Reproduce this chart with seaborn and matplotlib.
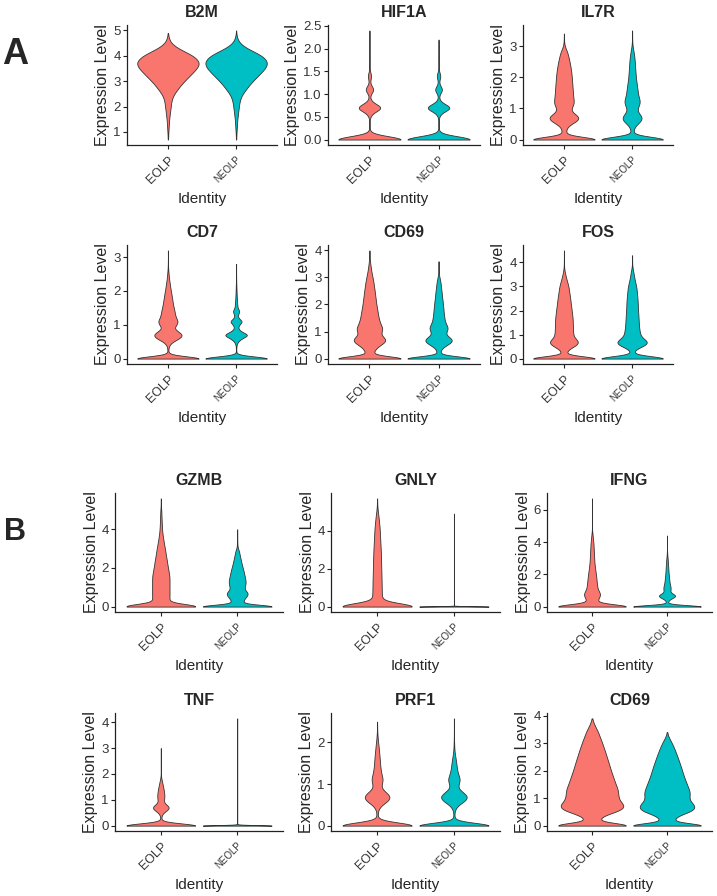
import numpy as np
import pandas as pd
import seaborn as sns
import matplotlib.pyplot as plt
from matplotlib.ticker import MultipleLocator

sns.set_style('ticks')
plt.rcParams['font.family'] = ['Liberation Sans', 'DejaVu Sans']

# cells per 0.1 expression bin, starting at 0.0; tails are single outlying cells
GROUPS = ['EOLP', 'NEOLP']
COLORS = ['#F8766D', '#00BFC4']
STEP = 0.1

B2M_EOLP = [0, 0, 0, 0, 0, 0, 0,
            2, 4, 4, 6, 8, 10, 12, 14, 16, 20, 24, 28, 32, 36, 40, 44, 52, 64, 80, 104, 128, 152,
            180, 208, 240, 272, 304, 336, 364, 388, 400, 388, 360, 320, 260, 192, 132, 80, 44, 24, 12, 6, 2]
B2M_NEOLP = [0, 0, 0, 0, 0, 0, 0,
             2, 3, 4, 6, 8, 10, 12, 14, 16, 20, 24, 28, 32, 36, 40, 46, 54, 66, 84, 108, 132, 156,
             184, 212, 244, 276, 308, 340, 368, 390, 400, 392, 368, 330, 272, 204, 140, 88, 50, 28, 14, 7, 3, 1]
HIF1A_EOLP = [1000, 20, 4, 3, 3, 8, 60, 300, 60, 6, 10, 110, 12, 8, 45, 4, 2, 5, 1, 1, 1, 1, 0, 1, 1]
HIF1A_NEOLP = [1000, 20, 3, 3, 3, 6, 50, 310, 50, 5, 10, 100, 10, 8, 50, 3, 2, 2, 1, 1, 1, 0, 1]
IL7R_EOLP = [850, 20, 25, 30, 40, 95, 180, 220, 160, 95, 95, 125, 135, 128, 123, 120, 117, 114, 111, 108,
             105, 101, 96, 90, 83, 75, 66, 56, 46, 28, 10, 4, 2, 1, 1]
IL7R_NEOLP = [900, 15, 15, 20, 30, 70, 125, 145, 110, 70, 70, 95, 110, 100, 85, 78, 74, 68, 62, 56,
              51, 48, 45, 42, 39, 37, 33, 28, 22, 14, 7, 3, 2, 1, 1, 1]
CD7_EOLP = [1000, 10, 8, 10, 25, 90, 230, 300, 200, 110, 170, 200, 160, 140, 130, 115, 100, 90, 80, 70,
            58, 47, 38, 28, 20, 14, 8, 4, 2, 1, 0, 1, 1]
CD7_NEOLP = [1000, 8, 4, 4, 8, 35, 120, 290, 100, 35, 60, 150, 40, 35, 80, 30, 25, 20, 16, 12,
             10, 7, 5, 3, 2, 1, 1, 1, 1]
CD69_EOLP = [1000, 40, 60, 80, 110, 170, 240, 270, 215, 175, 190, 210, 190, 170, 155, 145, 137, 130, 123, 116,
             108, 103, 98, 92, 87, 82, 76, 70, 64, 57, 49, 40, 32, 25, 19, 14, 9, 5, 3, 1, 1]
CD69_NEOLP = [1000, 20, 25, 32, 60, 130, 210, 235, 165, 110, 125, 155, 140, 115, 100, 94, 88, 83, 79, 76,
              71, 66, 61, 56, 52, 47, 42, 37, 32, 26, 15, 7, 3, 2, 1, 1, 1]
FOS_EOLP = [1000, 25, 30, 40, 70, 140, 200, 215, 175, 140, 132, 130, 128, 127, 126, 125, 124, 122, 118, 114,
            110, 106, 101, 97, 93, 89, 84, 79, 74, 69, 64, 56, 46, 36, 28, 20, 12, 7, 3, 2, 1, 1, 0, 1, 0, 1]
FOS_NEOLP = [1000, 15, 15, 22, 50, 130, 205, 220, 165, 120, 108, 102, 97, 93, 90, 88, 87, 85, 83, 81,
             79, 77, 76, 75, 73, 71, 68, 65, 62, 59, 55, 48, 40, 33, 27, 22, 18, 10, 5, 2, 1, 1, 0, 1]

GZMB_EOLP = [700, 55, 58, 60, 60, 61, 61, 61, 61, 61, 61, 61, 61, 61, 61, 61, 60,
             58, 55, 53, 51, 48, 46, 44, 42, 40, 37, 35, 33, 31, 29, 26, 24, 22, 19, 17, 15, 13, 11, 10,
             9, 8, 7, 7, 6, 6, 5, 5, 4, 4, 3, 2, 1, 1, 0, 1, 1]
GZMB_NEOLP = [700, 50, 55, 60, 67, 85, 100, 105, 85, 68, 70, 76, 80, 80, 78, 74, 70, 66, 62, 58, 53,
              48, 43, 39, 35, 31, 27, 23, 20, 16, 8, 4, 2, 2, 1, 1, 1, 1, 0, 1, 1]
GNLY_EOLP = [700, 40, 35, 30, 27, 25, 25,
             25, 25, 25, 24, 24, 24, 24, 24, 23, 23, 23, 23, 22, 22, 22, 22, 21, 21, 21,
             21, 20, 20, 20, 19, 19, 18, 18, 17, 17, 16, 16, 15, 15, 14, 14, 13,
             12, 11, 10, 9, 8, 7, 6, 4, 3, 2, 1, 1, 1, 0, 1]
GNLY_NEOLP = [3000, 0, 0, 0, 0, 0, 0, 3, 0, 0, 0, 2]
GNLY_NEOLP_TAIL = [1.5, 1.8, 2.2, 2.6, 3.0, 3.4, 3.9, 4.4, 4.9]
IFNG_EOLP = [650, 35, 32, 32, 34, 38, 45, 52, 52, 45, 38, 34, 32, 31, 30, 29, 28, 27, 26, 25,
             24, 22, 21, 20, 18, 17, 16, 15, 14, 14, 13, 13, 12, 12, 11, 11, 10, 10, 9, 9,
             8, 7, 6, 5, 4, 3, 2, 1]
IFNG_EOLP_TAIL = [5.0, 5.4, 5.9, 6.3, 6.7]
IFNG_NEOLP = [1000, 10, 10, 12, 20, 55, 110, 130, 70, 40, 45, 50, 48, 44, 38, 34, 32, 29, 27, 25,
              23, 21, 20, 18, 17, 16, 14, 13, 12, 10, 8, 6, 4, 3, 2, 1]
IFNG_NEOLP_TAIL = [3.7, 4.0, 4.4]
TNF_EOLP = [1000, 15, 8, 6, 10, 30, 90, 140, 80, 35, 45, 50, 50, 45, 40, 32, 25, 18, 9, 3, 1]
TNF_EOLP_TAIL = [2.2, 2.5, 2.7, 3.0]
TNF_NEOLP = [3000, 0, 0, 0, 0, 0, 0, 3, 0, 0, 0, 2]
TNF_NEOLP_TAIL = [1.5, 1.9, 2.3, 2.6, 3.1, 3.5, 4.15]
PRF1_EOLP = [1000, 15, 10, 8, 20, 70, 180, 220, 140, 60, 70, 95, 75, 60, 52, 46, 42, 36, 30, 24, 17, 10, 5, 2]
PRF1_EOLP_TAIL = [2.4, 2.5]
PRF1_NEOLP = [1000, 15, 10, 8, 22, 80, 200, 250, 160, 70, 80, 110, 85, 62, 50, 42, 32, 20, 10, 6, 4, 2, 1]
PRF1_NEOLP_TAIL = [2.3, 2.45, 2.58]
CD69B_EOLP = [620, 50, 60, 72, 120, 200, 260, 275, 260, 235, 225, 222, 220, 218, 210, 200, 192, 184, 176, 168,
              160, 153, 146, 139, 132, 124, 117, 110, 102, 94, 86, 78, 68, 60, 51, 40, 28, 17, 8, 2]
CD69B_NEOLP = [620, 55, 65, 80, 130, 210, 255, 260, 240, 215, 205, 210, 212, 205, 195, 185, 175, 165, 156, 148,
               140, 132, 124, 115, 106, 97, 88, 78, 68, 57, 45, 32, 18, 7, 2]

# title, (eolp counts, tail), (neolp counts, tail), y tick step, bandwidth adjust
PANELS_A = [
    ('B2M', (B2M_EOLP, []), (B2M_NEOLP, []), 1, 0.85),
    ('HIF1A', (HIF1A_EOLP, []), (HIF1A_NEOLP, []), 0.5, 0.7),
    ('IL7R', (IL7R_EOLP, []), (IL7R_NEOLP, []), 1, 0.5),
    ('CD7', (CD7_EOLP, []), (CD7_NEOLP, []), 1, 0.5),
    ('CD69', (CD69_EOLP, []), (CD69_NEOLP, []), 1, 0.5),
    ('FOS', (FOS_EOLP, []), (FOS_NEOLP, []), 1, 0.5),
]
PANELS_B = [
    ('GZMB', (GZMB_EOLP, []), (GZMB_NEOLP, []), 2, 0.5),
    ('GNLY', (GNLY_EOLP, []), (GNLY_NEOLP, GNLY_NEOLP_TAIL), 2, 0.5),
    ('IFNG', (IFNG_EOLP, IFNG_EOLP_TAIL), (IFNG_NEOLP, IFNG_NEOLP_TAIL), 2, 0.5),
    ('TNF', (TNF_EOLP, TNF_EOLP_TAIL), (TNF_NEOLP, TNF_NEOLP_TAIL), 1, 0.7),
    ('PRF1', (PRF1_EOLP, PRF1_EOLP_TAIL), (PRF1_NEOLP, PRF1_NEOLP_TAIL), 1, 0.6),
    ('CD69', (CD69B_EOLP, []), (CD69B_NEOLP, []), 1, 0.55),
]

W, H = 717, 896
COLS_A = [(127, 277), (328, 480), (523, 673)]
COLS_B = [(115, 283), (331, 500), (547, 712)]
ROWS_A = [(25, 145), (245, 364)]
ROWS_B = [(493, 612), (713, 831)]


def expand(counts, tail):
    levels = np.round(np.arange(len(counts)) * STEP, 2)
    return np.concatenate([np.repeat(levels, counts), np.asarray(tail, dtype=float)])


def draw_panel(fig, box, title, eolp, neolp, tick_step, bw):
    (x0, x1), (y0, y1) = box
    ax = fig.add_axes([x0 / W, 1 - y1 / H, (x1 - x0) / W, (y1 - y0) / H])
    e = expand(*eolp)
    n = expand(*neolp)
    df = pd.DataFrame({'Identity': ['EOLP'] * len(e) + ['NEOLP'] * len(n),
                       'value': np.concatenate([e, n])})
    sns.violinplot(data=df, x='Identity', y='value', hue='Identity', order=GROUPS,
                   hue_order=GROUPS, palette=COLORS, saturation=1, density_norm='width',
                   cut=0, inner=None, width=0.9, linewidth=0.6, linecolor='#333333',
                   bw_adjust=bw, gridsize=500, legend=False, ax=ax)
    lo, hi = df['value'].min(), df['value'].max()
    pad = 0.05 * (hi - lo)
    ax.set_ylim(lo - pad, hi + pad)
    ax.set_xlim(-0.6, 1.6)
    ax.yaxis.set_major_locator(MultipleLocator(tick_step))
    sns.despine(ax=ax)
    for s in ['left', 'bottom']:
        ax.spines[s].set_linewidth(0.9)
        ax.spines[s].set_color('#222222')
    ax.tick_params(axis='both', length=3, width=0.8, color='#222222', labelcolor='#333333')
    ax.tick_params(axis='y', labelsize=9.5, pad=1.5)
    ax.set_xticks([0, 1])
    ax.set_xticklabels(GROUPS, rotation=45, ha='right', rotation_mode='anchor')
    for lab, size in zip(ax.get_xticklabels(), [9, 7]):
        lab.set_fontsize(size)
    ax.set_title(title, fontsize=11.5, fontweight='bold', pad=6)
    ax.set_ylabel('Expression Level', fontsize=11.5, labelpad=2)
    ax.set_xlabel('Identity', fontsize=11, labelpad=4)
    return ax


fig = plt.figure(figsize=(W / 100, H / 100), dpi=100)

for i, (title, eolp, neolp, step, bw) in enumerate(PANELS_A):
    box = (COLS_A[i % 3], ROWS_A[i // 3])
    draw_panel(fig, box, title, eolp, neolp, step, bw)

for i, (title, eolp, neolp, step, bw) in enumerate(PANELS_B):
    box = (COLS_B[i % 3], ROWS_B[i // 3])
    draw_panel(fig, box, title, eolp, neolp, step, bw)

fig.text(15 / W, 1 - 55 / H, 'A', fontsize=26, fontweight='bold', ha='center', va='center')
fig.text(15 / W, 1 - 532 / H, 'B', fontsize=22, fontweight='bold', ha='center', va='center')

fig.savefig('out.png', dpi=100)
